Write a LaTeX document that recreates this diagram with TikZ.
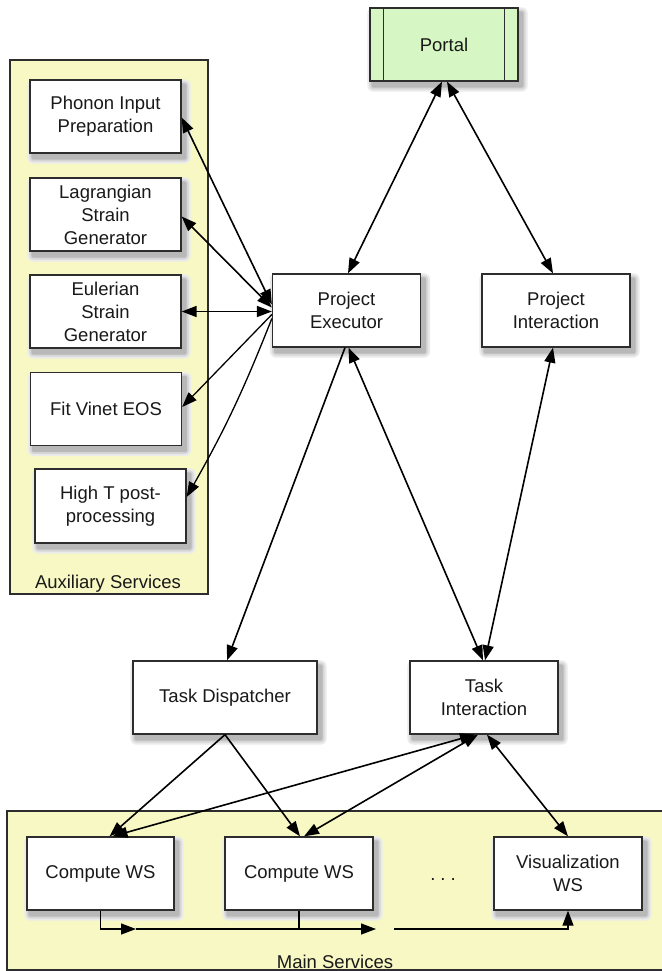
\documentclass[tikz,border=0pt]{standalone}
\usepackage{fontspec}
\setmainfont{Liberation Sans}
\usetikzlibrary{arrows.meta}
\pgfdeclarelayer{grouplayer}
\pgfdeclarelayer{shadowlayer}
\pgfsetlayers{grouplayer,shadowlayer,main}
\definecolor{groupfill}{RGB}{248,248,196}
\definecolor{portalfill}{RGB}{214,246,196}
\definecolor{edgegray}{RGB}{45,45,45}
\definecolor{txt}{RGB}{25,25,25}
\tikzset{
  svc/.style={draw=edgegray, line width=1.3pt, fill=white, minimum width=148pt, minimum height=73pt,
    align=center, inner sep=2pt, text=txt, font=\fontsize{18.5}{23}\selectfont},
  grp/.style={draw=edgegray, line width=1.3pt, fill=groupfill},
  grplabel/.style={text=txt, font=\fontsize{18.5}{23}\selectfont, inner sep=0pt},
  conn/.style={draw=black, line width=1.6pt},
  tip/.style={-{Triangle[length=15pt,width=11pt]}},
  bitip/.style={{Triangle[length=15pt,width=11pt]}-{Triangle[length=15pt,width=11pt]}},
}
\begin{document}
\begin{tikzpicture}[x=1pt,y=-1pt]
\useasboundingbox (0,0) rectangle (661,971);
% nodes
\node[svc, fill=portalfill] (portal) at (444,44.5) {Portal};
\draw[edgegray, line width=1.3pt] ([xshift=14pt]portal.north west) -- ([xshift=14pt]portal.south west);
\draw[edgegray, line width=1.3pt] ([xshift=-14pt]portal.north east) -- ([xshift=-14pt]portal.south east);
\node[svc] (pe) at (346.5,310.5) {Project\\Executor};
\node[svc] (pi) at (556,310.5) {Project\\Interaction};
\node[svc, minimum width=151pt] (phonon) at (105.5,116.5) {Phonon Input\\Preparation};
\node[svc, minimum width=151pt] (lag) at (105.5,214.5) {Lagrangian\\Strain\\Generator};
\node[svc, minimum width=151pt] (eul) at (105.5,311.5) {Eulerian\\Strain\\Generator};
\node[svc, minimum width=151pt] (fit) at (106,409) {Fit Vinet EOS};
\node[svc, minimum width=151pt, minimum height=74pt] (hight) at (110.5,506) {High T post-\\processing};
\node[svc, minimum width=184pt] (td) at (225,697.5) {Task Dispatcher};
\node[svc] (ti) at (484,697.5) {Task\\Interaction};
\node[svc, minimum width=147pt] (cws1) at (100.5,873.5) {Compute WS};
\node[svc] (cws2) at (299,873.5) {Compute WS};
\node[svc] (vis) at (568,873.5) {Visualization\\WS};
\node[text=txt, font=\fontsize{18.5}{23}\selectfont, inner sep=0pt] (dots) at (443,879) {.\hspace{5pt}.\hspace{5pt}.};
% groups (behind)
\begin{pgfonlayer}{grouplayer}
\fill[white] (0,0) rectangle (661,971);
\draw[grp] (10,60) rectangle (208,594);
\draw[grp] (7,811) rectangle (667,970);
\end{pgfonlayer}
\node[grplabel] (auxlbl) at (108,584) {Auxiliary Services};
\node[grplabel] (mainlbl) at (335,962) {Main Services};
% shadows
\begin{pgfonlayer}{shadowlayer}
\foreach \n in {portal,pe,pi,phonon,lag,eul,fit,hight,td,ti,cws1,cws2,vis}{
  \fill[black!8, rounded corners=6pt] ([shift={(-2pt,-10pt)}]\n.south west) rectangle ([shift={(9pt,0pt)}]\n.north east);
  \fill[black!16, rounded corners=4pt] ([shift={(0pt,-8pt)}]\n.south west) rectangle ([shift={(7pt,-2pt)}]\n.north east);
  \fill[black!28, rounded corners=2pt] ([shift={(2pt,-6pt)}]\n.south west) rectangle ([shift={(5pt,-4pt)}]\n.north east);
}
\end{pgfonlayer}
% connectors top
\draw[conn,bitip] ([xshift=-2pt]portal.south) -- ([xshift=1.5pt]pe.north);
\draw[conn,bitip] ([xshift=3pt]portal.south) -- ([xshift=-3pt]pi.north);
% auxiliary
\draw[conn,bitip] ([yshift=6pt]pe.west) -- ([yshift=-1pt]phonon.east);
\draw[conn,bitip] ([yshift=3pt]pe.west) -- ([yshift=-2pt]lag.east);
\draw[conn,bitip] ([yshift=-1pt]pe.west) -- (eul.east);
\draw[conn,tip,line width=1.3pt] ([yshift=-4pt]pe.west) -- ([yshift=2pt]fit.east);
\draw[conn,tip,line width=1.3pt] ([yshift=-8pt]pe.west) to[bend left=4] ([yshift=9pt]hight.east);
% middle
\draw[conn,tip] ([xshift=-1.5pt]pe.south) -- ([xshift=2pt]td.north);
\draw[conn,bitip] ([xshift=2pt]pe.south) -- ([xshift=-1pt]ti.north);
\draw[conn,bitip] ([xshift=-3pt]pi.south) -- ([xshift=1pt]ti.north);
% lower
\draw[conn,tip] (td.south) -- ([xshift=9pt]cws1.north);
\draw[conn,tip] (td.south) -- ([xshift=1pt]cws2.north);
\draw[conn,bitip] ([xshift=-9pt]ti.south) -- ([xshift=12pt]cws1.north);
\draw[conn,bitip] ([xshift=-6pt]ti.south) -- ([xshift=5pt]cws2.north);
\draw[conn,bitip] ([xshift=3pt]ti.south) -- (vis.north);
% bus
\coordinate (a1) at (136,929);
\coordinate (bus) at (299,929);
\coordinate (a2) at (376,929);
\coordinate (b2) at (394,929);
\draw[conn,tip,line width=1.3pt] (cws1.south) |- (a1);
\draw[conn,line width=1.3pt] (a1) -- (bus);
\draw[conn,line width=1.3pt] (cws2.south) -- (bus);
\draw[conn,tip,line width=1.3pt] (bus) -- (a2);
\draw[conn,tip,line width=1.3pt] (b2) -| (vis.south);
\end{tikzpicture}
\end{document}
